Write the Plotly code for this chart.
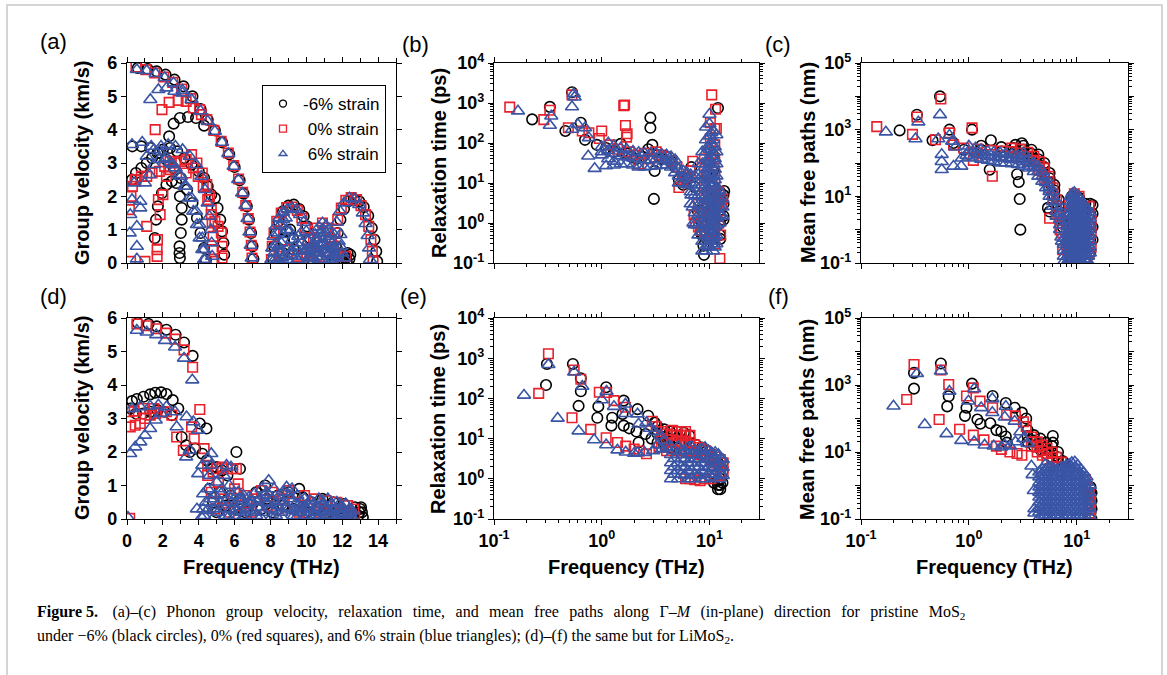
import plotly.graph_objects as go

W, H = 1167, 675
RED = "#e8212b"
BLUE = "#3a55a5"

# ---------------- Panel (a): MoS2 group velocity (THz, km/s) ----------------
A_NEG6 = [
    (0.6, 5.85), (1.15, 5.82), (1.65, 5.75), (2.15, 5.65), (2.65, 5.5), (3.15, 5.3), (3.65, 5.0), (4.1, 4.62),
    (4.5, 4.3), (4.9, 3.98), (5.3, 3.62), (5.7, 3.26), (6.0, 2.88), (6.28, 2.48), (6.5, 2.08), (6.68, 1.7),
    (6.8, 1.3), (6.92, 0.9), (7.0, 0.5), (7.05, 0.12),
    (2.35, 3.8), (2.6, 4.18), (2.95, 4.35), (3.4, 4.38), (3.85, 4.35), (4.3, 4.12),
    (0.28, 2.5), (0.5, 2.7), (0.8, 2.85), (1.1, 3.0), (1.4, 3.15), (1.7, 3.3), (2.0, 3.4), (2.4, 3.45),
    (2.8, 3.35), (3.2, 3.15), (3.6, 2.95), (4.0, 2.75), (4.3, 2.55), (4.5, 2.3), (4.7, 2.05), (4.9, 1.95),
    (5.05, 1.65), (5.2, 1.3), (5.3, 0.95), (5.38, 0.6), (5.42, 0.25),
    (0.3, 3.5), (0.8, 3.5), (1.3, 3.45), (1.8, 3.3), (2.2, 3.1), (2.6, 2.85), (3.0, 2.55), (3.35, 2.2),
    (3.65, 1.8), (3.9, 1.35), (4.1, 0.9), (4.3, 0.45), (4.4, 0.1),
    (1.55, 0.75), (1.62, 1.3), (1.72, 1.7), (1.95, 2.1), (2.2, 2.35), (2.5, 2.45), (2.75, 2.4), (2.95, 2.0),
    (3.05, 1.65), (3.05, 1.3), (3.0, 0.9), (2.93, 0.5), (2.93, 0.3), (2.95, 0.15),
    (8.15, 0.1), (8.2, 0.5), (8.3, 0.9), (8.45, 1.25), (8.7, 1.55), (9.0, 1.72), (9.3, 1.75), (9.6, 1.62),
    (9.85, 1.4), (10.05, 1.1), (10.2, 0.75), (10.3, 0.4), (10.35, 0.1),
    (8.7, 0.3), (8.75, 0.7), (8.9, 0.95), (9.1, 1.0), (9.25, 0.75), (9.3, 0.4),
    (11.6, 0.1), (11.65, 0.5), (11.75, 0.9), (11.9, 1.3), (12.1, 1.62), (12.35, 1.85), (12.65, 1.92),
    (12.95, 1.85), (13.2, 1.68), (13.45, 1.42), (13.65, 1.05), (13.8, 0.7), (13.9, 0.35), (13.95, 0.05),
    (12.0, 0.1), (12.1, 0.25), (12.2, 0.15), (12.3, 0.3), (12.4, 0.12), (12.45, 0.25), (12.25, 0.05),
]
A_ZERO = [
    (0.5, 5.88), (1.05, 5.8), (1.55, 5.7), (2.05, 5.58), (2.55, 5.42), (3.05, 5.22), (3.55, 4.93), (4.05, 4.6),
    (4.45, 4.3), (4.85, 3.98), (5.25, 3.65), (5.65, 3.3), (5.95, 2.92), (6.22, 2.52), (6.45, 2.12), (6.62, 1.72),
    (6.76, 1.33), (6.86, 0.93), (6.93, 0.53), (6.97, 0.15),
    (1.57, 4.0), (1.95, 4.6), (2.35, 4.82), (2.85, 4.88), (3.3, 4.85), (3.7, 4.65), (4.15, 4.45),
    (0.3, 2.3), (0.5, 2.5), (0.8, 2.6), (1.1, 2.6), (1.4, 2.7), (1.8, 2.75), (2.1, 2.9), (2.4, 3.05),
    (2.7, 3.0), (3.0, 3.05), (3.3, 2.7), (3.7, 2.85), (3.97, 2.6), (4.25, 2.3), (4.5, 1.9), (4.7, 1.45),
    (4.9, 1.25), (5.08, 1.1), (5.26, 0.9), (5.3, 0.5), (5.3, 0.15),
    (3.3, 3.1), (3.6, 3.25), (3.9, 3.0), (4.2, 2.7), (4.45, 2.35), (4.6, 2.0), (4.7, 1.6), (4.75, 1.2),
    (4.8, 0.8), (4.82, 0.4), (4.85, 0.05),
    (0.13, 1.6), (0.22, 2.0), (0.45, 2.5), (1.1, 1.1), (1.7, 0.7), (1.68, 0.4), (1.68, 0.2), (1.85, 1.45),
    (1.75, 1.9), (2.0, 2.05), (2.2, 2.6), (1.0, 0.05), (0.2, 0.05), (2.4, 2.8),
    (8.05, 0.1), (8.1, 0.5), (8.2, 0.9), (8.35, 1.25), (8.6, 1.5), (8.9, 1.66), (9.2, 1.68), (9.5, 1.58),
    (9.75, 1.35), (9.95, 1.05), (10.1, 0.7), (10.2, 0.35), (10.25, 0.05),
    (10.25, 0.3), (10.4, 0.75), (10.6, 1.05), (10.9, 1.2), (11.2, 1.05), (11.4, 0.7), (11.55, 0.3),
    (11.45, 0.1), (11.5, 0.5), (11.6, 0.9), (11.75, 1.3), (11.95, 1.65), (12.2, 1.88), (12.5, 1.96),
    (12.8, 1.9), (13.05, 1.72), (13.3, 1.45), (13.48, 1.1), (13.6, 0.7), (13.68, 0.35), (13.72, 0.05),
    (8.5, 0.2), (9.0, 0.4), (9.5, 0.2), (10.0, 0.3), (10.6, 0.2), (11.2, 0.3), (11.8, 0.2), (12.2, 0.2),
]
A_POS6 = [
    (0.55, 5.8), (1.1, 5.77), (1.6, 5.68), (2.1, 5.56), (2.6, 5.4), (3.1, 5.18), (3.6, 4.9), (4.1, 4.56),
    (4.5, 4.25), (4.9, 3.95), (5.3, 3.62), (5.65, 3.28), (5.95, 2.9), (6.2, 2.5), (6.42, 2.1), (6.6, 1.72),
    (6.72, 1.33), (6.83, 0.93), (6.9, 0.53), (6.95, 0.15),
    (1.3, 4.9), (1.75, 5.2), (2.2, 5.25), (2.65, 5.15), (3.1, 5.1),
    (0.28, 3.55), (0.85, 3.62), (1.35, 3.5), (1.8, 3.35), (2.2, 3.15), (2.55, 2.95), (2.9, 2.65), (3.2, 2.3),
    (3.45, 1.95), (3.7, 1.55), (3.9, 1.15), (4.05, 0.75), (4.2, 0.4), (4.3, 0.1),
    (1.1, 3.2), (1.5, 3.4), (1.9, 3.5), (2.3, 3.55), (2.7, 3.5), (3.1, 3.4), (3.5, 3.2), (3.85, 2.95),
    (4.15, 2.6), (4.35, 2.2), (4.5, 1.8), (4.6, 1.4), (4.68, 1.0), (4.72, 0.6), (4.75, 0.2),
    (0.15, 0.9), (0.18, 1.45), (0.28, 1.9), (0.4, 2.4), (0.55, 1.1), (0.55, 0.5), (0.55, 0.12), (0.74, 1.85),
    (0.74, 1.65), (1.0, 2.4), (1.25, 2.65), (1.5, 2.95), (1.8, 3.1), (2.1, 3.1), (2.4, 3.0), (2.7, 2.85),
    (3.0, 2.6), (3.3, 2.3), (3.6, 1.95), (3.85, 1.55), (4.05, 1.15), (4.2, 0.75), (4.3, 0.4), (4.35, 0.1),
    (8.05, 0.1), (8.1, 0.45), (8.18, 0.8), (8.3, 1.1), (8.48, 1.35), (8.7, 1.52), (8.95, 1.62), (9.2, 1.65),
    (9.45, 1.6), (9.65, 1.45), (9.85, 1.22), (10.0, 0.95), (10.1, 0.65), (10.17, 0.35), (10.2, 0.08),
    (8.55, 0.3), (8.6, 0.6), (8.72, 0.85), (8.9, 1.0), (9.08, 0.95), (9.2, 0.7), (9.25, 0.35),
    (10.25, 0.2), (10.35, 0.55), (10.5, 0.85), (10.7, 1.08), (10.9, 1.2), (11.1, 1.12), (11.3, 0.9),
    (11.45, 0.6), (11.55, 0.25),
    (11.4, 0.08), (11.45, 0.45), (11.55, 0.85), (11.7, 1.22), (11.88, 1.55), (12.1, 1.8), (12.4, 1.95),
    (12.7, 1.92), (12.95, 1.75), (13.15, 1.5), (13.3, 1.18), (13.42, 0.82), (13.5, 0.45), (13.55, 0.1),
    (8.3, 0.15), (8.45, 0.5), (8.8, 0.2), (9.0, 0.45), (9.4, 0.2), (9.6, 0.5), (9.8, 0.2), (10.0, 0.4),
    (10.4, 0.15), (10.6, 0.45), (10.8, 0.2), (11.0, 0.6), (11.2, 0.25), (11.4, 0.4), (11.7, 0.2), (11.9, 0.5),
    (12.1, 0.15), (10.1, 0.15), (9.7, 0.9), (10.8, 0.75), (11.9, 0.85),
    (8.2, 0.3), (8.4, 0.1), (8.65, 0.15), (8.95, 0.1), (9.15, 0.25), (9.35, 0.5), (9.5, 0.1), (9.55, 0.8),
    (9.75, 0.6), (9.9, 0.35), (10.3, 0.4), (10.5, 0.3), (10.7, 0.1), (10.9, 0.4), (11.1, 0.3), (11.3, 0.1),
    (11.5, 0.15), (11.6, 0.45), (11.8, 0.65), (12.0, 0.3),
    (10.45, 0.45), (10.55, 0.7), (10.65, 0.3), (10.75, 0.9), (10.85, 0.55), (10.95, 1.0), (11.05, 0.8),
    (11.15, 0.5), (11.25, 0.7), (11.35, 0.3),
    (8.35, 0.55), (8.45, 0.9), (8.55, 1.15), (8.7, 1.3), (8.85, 1.35),
]

# ---------------- Panel (d): LiMoS2 group velocity ----------------
D_NEG6 = [
    (0.6, 5.85), (1.2, 5.82), (1.66, 5.75), (2.2, 5.65), (2.71, 5.5), (3.18, 5.27), (3.66, 4.87),
    (0.28, 3.52), (0.55, 3.58), (0.92, 3.65), (1.29, 3.72), (1.57, 3.77), (1.9, 3.78), (2.2, 3.73),
    (2.55, 3.55), (2.86, 3.3), (0.2, 3.3), (0.5, 3.15), (0.9, 3.15), (1.3, 3.2), (1.7, 3.25), (2.1, 3.2),
    (2.5, 3.1), (3.05, 2.45), (3.3, 2.2), (3.5, 2.0), (3.8, 2.1), (4.06, 2.85), (4.43, 2.7), (4.2, 1.95),
    (4.45, 1.75), (4.7, 1.5), (5.0, 1.55), (5.3, 1.45), (5.6, 1.3), (6.1, 2.0), (6.3, 1.5), (9.6, 0.9),
    (9.8, 0.65),
    (4.6, 0.9), (4.8, 0.5), (5.0, 0.2), (5.2, 0.8), (5.5, 0.4), (5.8, 0.7), (6.0, 0.3), (6.3, 0.6),
    (6.6, 0.2), (6.9, 0.5), (7.2, 0.8), (7.5, 0.3), (7.7, 1.0), (7.8, 0.6), (8.1, 0.2), (8.4, 0.7),
    (8.7, 0.4), (9.0, 0.8), (9.3, 0.3), (10.0, 0.2), (10.3, 0.5), (10.6, 0.3), (10.9, 0.6), (11.2, 0.2),
    (11.5, 0.5), (11.8, 0.3), (12.1, 0.45), (12.4, 0.15), (12.7, 0.35), (12.9, 0.1), (13.0, 0.3),
    (13.1, 0.2), (13.15, 0.05), (13.05, 0.35), (12.95, 0.2),
]
D_ZERO = [
    (0.55, 5.82), (1.1, 5.77), (1.63, 5.68), (2.16, 5.55), (2.68, 5.37), (3.18, 5.05), (3.66, 4.53),
    (0.18, 2.75), (0.46, 2.8), (0.74, 2.85), (1.0, 3.0), (1.3, 3.1), (1.6, 3.15), (1.9, 3.2), (2.2, 3.2),
    (2.5, 3.1), (0.1, 3.2), (0.4, 3.22), (0.9, 3.3), (1.5, 3.3), (2.77, 2.45), (3.14, 2.05), (3.6, 2.75),
    (3.75, 2.4), (4.06, 3.27), (4.3, 2.1), (4.5, 1.6), (4.8, 1.4), (5.0, 1.5), (5.3, 1.55), (5.6, 1.5),
    (5.9, 1.5), (6.1, 1.5), (6.2, 1.05), (0.15, 0.02),
    (4.5, 1.3), (4.7, 0.8), (4.9, 0.3), (5.1, 1.1), (5.4, 0.6), (5.7, 0.2), (6.0, 0.9), (6.3, 0.4),
    (6.6, 0.7), (6.9, 0.2), (7.2, 0.6), (7.5, 0.85), (7.8, 0.4), (8.1, 0.8), (8.4, 0.3), (8.7, 0.6),
    (9.0, 0.85), (9.3, 0.5), (9.6, 0.2), (9.9, 0.7), (10.2, 0.4), (10.5, 0.6), (10.8, 0.2), (11.1, 0.55),
    (11.4, 0.3), (11.7, 0.5), (12.0, 0.2), (12.3, 0.4), (12.5, 0.15), (12.65, 0.3), (12.7, 0.05),
]
D_POS6 = [
    (0.55, 5.63), (1.1, 5.58), (1.63, 5.5), (2.12, 5.33), (2.68, 5.13), (3.18, 4.8), (3.64, 4.15),
    (0.18, 1.95), (0.46, 2.15), (0.74, 2.3), (1.0, 2.5), (1.29, 2.7), (1.6, 2.95), (1.9, 3.15),
    (0.28, 3.3), (0.74, 3.35), (1.29, 3.37), (1.75, 3.4), (2.2, 3.35), (2.68, 3.2), (2.77, 2.75),
    (3.32, 3.05), (3.7, 2.9), (3.97, 2.65), (3.3, 1.85), (3.5, 2.05), (3.97, 1.35), (3.9, 0.3), (4.25, 0.3),
    (4.15, 0.05), (4.25, 0.75), (4.2, 1.6), (4.5, 1.8), (4.7, 1.95), (5.55, 1.6), (5.8, 1.55), (0.05, 0.05),
    (4.3, 0.1), (4.4, 0.5), (4.5, 0.9), (4.6, 1.3), (4.7, 1.6), (4.8, 0.3), (4.9, 0.7), (5.0, 1.1),
    (5.1, 0.2), (5.2, 0.5), (5.3, 0.9), (5.4, 1.3), (5.5, 0.1), (5.6, 0.6), (5.7, 1.0), (5.8, 0.3),
    (5.9, 0.7), (6.0, 0.1), (6.1, 0.45), (6.2, 0.8), (6.3, 0.2), (6.4, 0.55), (6.5, 0.7), (6.6, 0.1),
    (6.7, 0.4), (6.8, 0.65), (6.9, 0.2), (7.0, 0.5), (7.1, 0.75), (7.2, 0.1), (7.3, 0.35), (7.4, 0.6),
    (7.5, 0.9), (7.6, 0.2), (7.7, 0.5), (7.8, 0.8), (7.9, 1.15), (8.0, 0.3), (8.1, 0.6), (8.2, 0.9),
    (8.3, 0.1), (8.4, 0.4), (8.5, 0.7), (8.6, 0.2), (8.7, 0.5), (8.8, 0.8), (8.9, 0.95), (9.0, 0.3),
    (9.1, 0.6), (9.2, 0.9), (9.3, 0.1), (9.4, 0.45), (9.5, 0.7), (9.6, 0.2), (9.7, 0.5), (9.8, 0.3),
    (9.9, 0.6), (10.0, 0.1), (10.1, 0.4), (10.2, 0.55), (10.3, 0.2), (10.4, 0.45), (10.5, 0.1),
    (10.6, 0.35), (10.7, 0.6), (10.8, 0.2), (10.9, 0.45), (11.0, 0.1), (11.1, 0.35), (11.2, 0.6),
    (11.3, 0.2), (11.4, 0.45), (11.5, 0.1), (11.6, 0.3), (11.7, 0.5), (11.8, 0.15), (11.9, 0.35),
    (12.0, 0.1), (12.1, 0.3), (12.2, 0.45), (12.3, 0.15), (12.4, 0.3), (12.5, 0.1), (12.55, 0.25),
    (4.45, 0.25), (4.65, 0.6), (4.85, 0.05), (5.05, 0.4), (5.25, 0.75), (5.45, 0.3), (5.65, 0.05),
    (5.85, 0.5), (6.05, 0.25), (6.25, 0.6), (6.45, 0.05), (6.65, 0.3), (6.85, 0.5), (7.05, 0.25),
    (7.25, 0.5), (7.45, 0.05), (7.65, 0.7), (7.85, 0.45), (8.05, 0.05), (8.25, 0.25), (8.45, 0.55),
    (8.65, 0.05), (8.85, 0.35), (9.05, 0.7), (9.25, 0.25), (9.45, 0.05), (9.65, 0.35), (9.85, 0.05),
    (10.05, 0.3), (10.25, 0.05), (10.45, 0.3), (10.65, 0.05), (10.85, 0.55), (11.05, 0.25), (11.25, 0.05),
    (11.45, 0.25), (11.65, 0.05), (11.85, 0.45), (12.05, 0.2), (12.25, 0.05), (12.45, 0.2),
]

# ---------------- Panel (b): MoS2 relaxation time (THz, ps) ----------------
B_NEG6 = [
    (0.226, 390), (0.33, 800), (0.46, 200), (0.53, 1860), (0.64, 320), (0.7, 120), (0.9, 90), (1.1, 75),
    (1.3, 60), (1.5, 95), (1.7, 55), (1.9, 45), (2.1, 40), (2.4, 45), (2.7, 70), (2.83, 430), (2.83, 240),
    (2.95, 90), (3.05, 4), (3.1, 20), (3.3, 50), (3.6, 40), (4.0, 45), (4.4, 35), (4.8, 25), (5.2, 12),
    (5.7, 9), (6.2, 13), (6.8, 25), (7.3, 8), (7.8, 2), (8.3, 0.6), (8.8, 0.27), (8.9, 0.16), (12.0, 750),
    (12.6, 0.4), (13.7, 6.3), (13.5, 1.2),
]
B_NEG6_COLS = {8.5: [0.5, 1, 2], 9.5: [0.4, 1, 2.5, 6, 15], 10.8: [0.5, 1, 2, 4, 8, 20, 50],
               12.5: [0.5, 1, 2, 4, 6], 13.5: [1.5, 3, 5]}
B_ZERO = [
    (0.14, 790), (0.29, 385), (0.33, 660), (0.49, 240), (0.53, 1600), (0.66, 200), (0.76, 180), (0.95, 130),
    (1.0, 200), (1.2, 90), (1.4, 70), (1.6, 860), (1.63, 890), (1.66, 275), (1.72, 170), (1.7, 140),
    (1.8, 60), (2.0, 50), (2.2, 30), (2.5, 55), (2.8, 40), (3.2, 60), (3.6, 50), (4.0, 45), (4.5, 35),
    (5.0, 25), (5.2, 7.7), (5.6, 12), (6.0, 14), (6.6, 20), (7.0, 35), (7.2, 1.6), (7.4, 1.0), (8.3, 0.65),
    (10.5, 1600), (11.4, 700), (11.6, 230), (12.5, 0.13), (12.7, 0.5), (13.0, 3), (13.3, 4),
]
B_ZERO_COLS = {7.9: [0.8, 1.5, 3], 9.0: [0.6, 1.2, 2.5, 5, 10, 20, 40],
               10.2: [0.5, 1, 2, 4, 8, 16, 32, 64, 130, 320], 11.2: [0.3, 0.6, 1.2, 2.5, 5, 10, 20, 40, 90, 230],
               12.2: [1, 2, 3.5, 6]}
B_POS6 = [
    (0.167, 630), (0.33, 275), (0.34, 470), (0.53, 800), (0.55, 1700), (0.56, 1400), (0.53, 220), (0.6, 290),
    (0.7, 240), (0.76, 135), (0.75, 47), (0.86, 23), (1.0, 60), (1.1, 27), (1.3, 28), (6.8, 5), (7.0, 2.5),
    (7.1, 1.0), (7.3, 0.9),
]
B_POS6_COLS = {
    1.0: [50, 80], 1.15: [40, 65, 100], 1.3: [35, 55, 85], 1.5: [30, 48, 75], 1.7: [30, 45, 70],
    1.95: [28, 42, 62], 2.2: [25, 40, 58], 2.5: [25, 38, 55], 2.85: [26, 38, 55], 3.2: [27, 40, 55],
    3.6: [28, 40, 52], 4.0: [28, 38, 50], 4.4: [25, 35, 45], 4.8: [18, 28, 38], 5.2: [10, 15, 22],
    5.7: [10, 14, 20], 6.2: [9, 13, 18], 6.7: [3, 6, 10, 16],
    7.3: [1.8, 3, 5, 9, 15], 7.9: [0.5, 0.9, 1.6, 2.8, 5, 9, 16, 30],
    8.6: [0.2, 0.35, 0.6, 1.0, 1.7, 3, 5, 9, 16, 30, 60],
    9.3: [0.2, 0.35, 0.6, 1.0, 1.7, 3, 5, 9, 16, 30, 60, 120, 250],
    9.65: [0.27, 0.45, 0.8, 1.3, 2.2, 4, 7, 12, 22, 40, 80],
    10.0: [0.25, 0.4, 0.7, 1.2, 2, 3.5, 6, 10, 18, 35, 70, 150, 300, 520],
    10.4: [0.3, 0.5, 0.9, 1.5, 2.6, 4.5, 8, 14, 25, 45, 90, 180],
    10.8: [0.2, 0.35, 0.6, 1.0, 1.7, 3, 5, 9, 16, 30, 60, 120, 200],
    11.2: [0.25, 0.45, 0.8, 1.3, 2.2, 4, 7, 12, 22, 40, 80],
    11.6: [0.3, 0.5, 0.9, 1.5, 2.5, 4.5, 8, 15, 30, 60, 160],
    12.4: [1.0, 1.6, 2.6, 4, 6.5], 13.2: [1.5, 2.5, 4],
}

# ---------------- Panel (c): MoS2 mean free paths (THz, nm) ----------------
C_NEG6 = [
    (0.228, 950), (0.33, 2800), (0.46, 480), (0.54, 10000), (0.66, 1000), (0.72, 400), (0.9, 250),
    (1.07, 1000), (1.56, 63), (1.6, 480), (2.7, 350), (2.8, 46), (2.9, 27), (2.96, 8.3), (3.0, 1.0),
    (3.1, 390), (5.4, 4.5), (5.6, 3.5), (8.5, 0.1),
]
C_NEG6_COLS = {1.3: [250, 330], 2.0: [220, 300], 2.6: [200, 280], 3.2: [180, 250, 330], 3.8: [140, 190, 250],
               4.4: [90, 130, 180], 5.0: [50, 75, 100], 5.6: [25, 35, 50], 6.2: [10, 15, 22], 6.8: [3.5, 5, 8],
               7.4: [1.2, 2], 9.0: [0.12, 0.3, 0.8, 2, 5, 10], 10.5: [0.12, 0.3, 0.8, 2, 5, 9],
               12.0: [0.12, 0.3, 0.8, 2, 4, 6], 13.3: [0.2, 0.5, 1.2, 3, 6], 14.0: [0.5, 1.2, 3, 5.5]}
C_ZERO = [
    (0.14, 1230), (0.3, 720), (0.33, 2400), (0.49, 500), (0.55, 8300), (0.66, 800), (0.72, 350), (0.9, 280),
    (1.07, 1130), (1.1, 120), (1.65, 40), (5.6, 2.2), (7.2, 0.8), (7.4, 0.25), (8.0, 0.35), (8.3, 0.28),
]
C_ZERO_COLS = {1.2: [200, 260], 1.6: [180, 240], 2.0: [170, 230], 2.5: [160, 220, 280], 3.0: [150, 200, 260],
               3.5: [120, 160, 210], 4.0: [90, 120, 160], 4.5: [60, 80, 110], 5.0: [35, 50, 70],
               5.5: [18, 28, 40], 6.0: [8, 12, 18], 6.5: [3, 5, 8], 7.0: [1, 1.6, 2.5],
               8.5: [0.12, 0.3, 0.7, 1.5, 3, 6], 9.5: [0.12, 0.3, 0.7, 1.5, 3, 6, 12],
               10.5: [0.12, 0.3, 0.7, 1.5, 3, 6, 10], 11.8: [0.12, 0.3, 0.7, 1.5, 3, 5],
               13.0: [0.2, 0.5, 1.2, 3, 5], 13.6: [0.3, 0.8, 2]}
C_POS6 = [
    (0.17, 850), (0.32, 530), (0.34, 1700), (0.52, 530), (0.54, 2800), (0.56, 180), (0.56, 110), (0.56, 63),
    (0.66, 680), (0.7, 450), (0.72, 80), (0.75, 300), (0.85, 80), (0.86, 140), (0.95, 170), (7.2, 0.6),
    (7.3, 0.45), (8.4, 0.47), (8.6, 0.27),
]
C_POS6_COLS = {
    1.0: [150, 230, 320], 1.15: [140, 200, 280], 1.3: [130, 180, 250], 1.5: [120, 160, 220],
    1.7: [110, 150, 210], 1.95: [100, 140, 200], 2.2: [100, 140, 190], 2.5: [95, 130, 180],
    2.85: [90, 125, 170], 3.2: [80, 110, 150, 200], 3.6: [70, 95, 130], 4.0: [55, 75, 100],
    4.4: [40, 55, 75], 4.8: [28, 40, 55], 5.2: [18, 26, 36], 5.6: [10, 14, 20], 6.0: [5, 7, 10, 14],
    6.5: [2.5, 3.5, 5, 7], 7.0: [1, 1.4, 2, 3],
    7.6: [0.11, 0.16, 0.24, 0.36, 0.55],
    8.2: [0.11, 0.16, 0.24, 0.36, 0.55, 0.8, 1.2, 1.8],
    8.5: [0.13, 0.19, 0.28, 0.42, 0.63, 0.95, 1.4, 2.1, 3.2],
    8.8: [0.13, 0.19, 0.28, 0.42, 0.63, 0.95, 1.4, 2.1, 3.2, 4.8, 7, 10],
    9.1: [0.11, 0.16, 0.24, 0.36, 0.55, 0.8, 1.2, 1.8, 2.7, 4, 6, 9, 12],
    9.5: [0.11, 0.16, 0.24, 0.36, 0.55, 0.8, 1.2, 1.8, 2.7, 4, 6, 9, 13],
    9.9: [0.13, 0.19, 0.28, 0.42, 0.63, 0.95, 1.4, 2.1, 3.2, 4.8, 7, 11],
    10.3: [0.13, 0.19, 0.28, 0.42, 0.63, 0.95, 1.4, 2.1, 3.2, 4.8, 7, 10],
    10.7: [0.11, 0.16, 0.24, 0.36, 0.55, 0.8, 1.2, 1.8, 2.7, 4, 6, 8],
    11.2: [0.11, 0.16, 0.24, 0.36, 0.55, 0.8, 1.2, 1.8, 2.7, 4, 6],
    11.7: [0.13, 0.19, 0.28, 0.42, 0.63, 0.95, 1.4, 2.1, 3.2, 4.8],
    12.2: [0.13, 0.19, 0.28, 0.42, 0.63, 0.95, 1.4, 2.1, 3.2, 4.8],
    12.7: [0.11, 0.16, 0.24, 0.36, 0.55, 0.8, 1.2, 1.8, 2.7, 4],
    13.2: [0.2, 0.3, 0.45, 0.7, 1, 1.5, 2.2, 3.3],
}

# ---------------- Panel (e): LiMoS2 relaxation time ----------------
E_NEG6 = [
    (0.304, 215), (0.31, 720), (0.54, 720), (0.61, 65), (0.64, 316), (0.64, 150), (0.91, 33), (0.93, 63),
    (1.1, 190), (1.23, 21), (1.25, 33), (1.56, 41), (1.6, 88), (1.6, 21), (1.8, 18), (2.1, 15), (2.15, 54),
    (2.2, 8), (2.55, 13), (2.7, 37), (2.9, 10), (3.1, 25),
]
E_NEG6_COLS = {3.3: [8, 13, 20], 3.8: [7, 11, 17], 4.3: [6, 10, 15], 5.0: [6, 10, 15], 5.8: [5, 9, 14],
               6.5: [5, 8, 12], 7.5: [4.5, 7], 8.5: [4, 6], 9.5: [3.5, 5], 11.0: [0.8, 3],
               12.0: [0.55, 0.7, 0.9, 2.5], 12.6: [0.55, 0.7, 1.0, 2], 13.2: [0.8, 1.5, 2.5]}
E_ZERO = [
    (0.26, 133), (0.32, 1290), (0.53, 33), (0.555, 510), (0.64, 300), (0.79, 17), (0.95, 142), (1.1, 10.5),
    (1.11, 140), (1.3, 88), (1.4, 8), (1.66, 60), (1.67, 6.5), (2.0, 5.5), (2.24, 4.9), (2.6, 4.2),
    (2.95, 27), (3.2, 20), (3.4, 6),
]
E_ZERO_COLS = {3.6: [6, 10, 15], 4.0: [5, 8, 13], 4.5: [5, 8, 12, 16], 5.0: [5, 8, 12, 15],
               5.5: [5, 8, 12, 15], 6.0: [1.0, 5, 8, 12, 15], 6.6: [1.0, 5, 8, 12], 7.3: [0.95, 5, 7],
               8.2: [0.9, 4, 6], 9.2: [1.0, 3.5, 5], 10.3: [1.0, 3, 4], 11.4: [1.2, 2.5, 3.5],
               12.6: [1.2, 2, 3], 13.4: [1.5, 2.5]}
E_POS6 = [
    (0.19, 120), (0.32, 690), (0.39, 32), (0.555, 450), (0.61, 15.5), (0.66, 200), (0.85, 9.3), (1.0, 92),
    (1.1, 7), (1.11, 150), (1.3, 63), (1.4, 5.2), (1.66, 72), (1.66, 42), (1.67, 4.6), (2.0, 4.3),
    (2.15, 41), (2.2, 23), (2.15, 4.5), (2.5, 4.5), (2.6, 25), (2.8, 18), (3.0, 5), (3.1, 15), (3.3, 7),
    (3.5, 12), (3.6, 5.5), (3.8, 9), (4.0, 6),
]
E_POS6_COLS = {4.4: [1.0, 1.6, 2.5, 4.0, 6.3], 4.7: [1.3, 2.0, 3.2, 5.0], 5.1: [1.0, 1.6, 2.5, 4.0, 6.3],
               5.5: [1.3, 2.0, 3.2, 5.0], 5.9: [1.2, 1.9, 3.0, 4.8], 6.3: [1.0, 1.6, 2.5, 4.0, 6.0],
               6.8: [1.0, 1.6, 2.5, 4.0, 6.3], 7.3: [1.3, 2.0, 3.2, 5.0], 7.9: [1.2, 1.9, 3.0, 4.8],
               8.5: [1.0, 1.6, 2.5, 4.0, 5.5], 9.1: [1.0, 1.6, 2.5, 4.0, 6.0], 9.8: [1.3, 2.0, 3.2, 5.0],
               10.5: [1.1, 1.8, 2.8, 4.4], 11.3: [1.3, 2.0, 3.2, 4.5], 12.1: [1.0, 1.6, 2.5, 4.0],
               12.7: [1.3, 2.0, 3.2], 13.3: [1.2, 1.9, 3.0]}

# ---------------- Panel (f): LiMoS2 mean free paths ----------------
F_NEG6 = [
    (0.31, 780), (0.31, 2300), (0.55, 4400), (0.63, 230), (0.65, 460), (0.92, 120), (0.95, 210),
    (1.07, 1100), (1.2, 93), (1.28, 70), (1.58, 72), (1.66, 470), (1.8, 45), (2.0, 41), (2.2, 290),
    (2.2, 29), (2.25, 19), (2.66, 210), (3.1, 150), (3.4, 100), (6.0, 30), (6.0, 19), (7.4, 5.4),
]
F_NEG6_COLS = {3.5: [20, 30, 45], 4.0: [15, 22, 32], 4.6: [12, 17, 25], 5.2: [9, 13, 19], 5.9: [7, 10, 15],
               6.7: [5, 7, 10], 7.5: [3.5, 5], 8.5: [2.5, 3.5], 13.4: [0.1, 0.15, 0.25, 0.4, 0.6, 0.9],
               13.7: [0.1, 0.2, 0.35, 0.6]}
F_ZERO = [
    (0.265, 370), (0.31, 4100), (0.53, 93), (0.55, 2800), (0.65, 1040), (0.82, 48), (0.95, 470), (1.1, 820),
    (1.1, 32), (1.27, 330), (1.38, 23), (1.66, 210), (1.8, 15), (2.0, 12), (2.24, 130), (2.4, 10),
    (2.7, 120), (2.8, 9), (3.1, 8), (3.4, 58), (3.2, 80),
]
F_ZERO_COLS = {3.8: [15, 20, 28], 4.3: [10, 14, 20], 4.8: [8, 11, 16], 5.3: [6, 9, 13], 5.9: [5, 7, 10],
               6.5: [3.5, 5, 7], 7.2: [2.5, 3.5, 5], 8.2: [2, 3], 10.0: [1.2, 2], 12.0: [0.5, 1, 1.5],
               13.1: [0.1, 0.15, 0.25, 0.4, 0.6], 13.4: [0.1, 0.2, 0.35]}
F_POS6 = [
    (0.2, 234), (0.33, 2200), (0.39, 66), (0.55, 2600), (0.62, 35), (0.66, 650), (0.85, 22), (0.99, 330),
    (1.12, 770), (1.12, 20), (1.3, 210), (1.4, 16), (1.65, 390), (1.65, 150), (1.7, 15), (2.0, 14),
    (2.15, 110), (2.2, 230), (2.15, 16), (2.4, 15), (2.66, 83), (2.7, 20), (3.0, 40), (3.2, 25), (3.5, 18),
    (3.8, 3.8), (3.9, 2.1), (4.0, 0.7), (4.05, 0.2), (4.05, 0.15),
]
F_POS6_COLS = {
    4.5: [0.11, 0.16, 0.22, 0.32, 0.45, 0.63, 0.9, 1.25, 1.8, 2.5],
    4.8: [0.13, 0.19, 0.27, 0.38, 0.53, 0.75, 1.05, 1.5, 2.1, 3.0],
    5.1: [0.13, 0.19, 0.27, 0.38, 0.53, 0.75, 1.05, 1.5, 2.1, 3.0, 4.2],
    5.45: [0.11, 0.16, 0.22, 0.32, 0.45, 0.63, 0.9, 1.25, 1.8, 2.5, 3.5],
    5.8: [0.11, 0.16, 0.22, 0.32, 0.45, 0.63, 0.9, 1.25, 1.8, 2.5, 3.5],
    6.2: [0.13, 0.19, 0.27, 0.38, 0.53, 0.75, 1.05, 1.5, 2.1, 3.0],
    6.6: [0.13, 0.19, 0.27, 0.38, 0.53, 0.75, 1.05, 1.5, 2.1, 3.0],
    7.0: [0.11, 0.16, 0.22, 0.32, 0.45, 0.63, 0.9, 1.25, 1.8, 2.5, 3.3],
    7.5: [0.11, 0.16, 0.22, 0.32, 0.45, 0.63, 0.9, 1.25, 1.8, 2.5, 3.5],
    8.0: [0.13, 0.19, 0.27, 0.38, 0.53, 0.75, 1.05, 1.5, 2.1, 3.0, 4.0],
    8.5: [0.13, 0.19, 0.27, 0.38, 0.53, 0.75, 1.05, 1.5, 2.1, 3.0, 4.2],
    9.0: [0.11, 0.16, 0.22, 0.32, 0.45, 0.63, 0.9, 1.25, 1.8, 2.5, 3.5, 4.8],
    9.6: [0.11, 0.16, 0.22, 0.32, 0.45, 0.63, 0.9, 1.25, 1.8, 2.5, 3.5, 5.0],
    10.2: [0.13, 0.19, 0.27, 0.38, 0.53, 0.75, 1.05, 1.5, 2.1, 3.0, 4.0],
    10.9: [0.13, 0.19, 0.27, 0.38, 0.53, 0.75, 1.05, 1.5, 2.1, 3.0],
    11.6: [0.11, 0.16, 0.22, 0.32, 0.45, 0.63, 0.9, 1.25, 1.8, 2.4],
    12.3: [0.11, 0.16, 0.22, 0.32, 0.45, 0.63, 0.9, 1.25, 1.8],
    13.2: [0.12, 0.2, 0.35, 0.6, 1.0],
}

LEGEND_NAMES = ["-6% strain", "\u00a00% strain", "\u00a06% strain"]

CAPTION_LINE1_WORDS = ["<b>Figure\u00a05.</b>\u00a0", "(a)–(c)", "Phonon", "group", "velocity,", "relaxation",
                       "time,", "and", "mean", "free", "paths", "along", "Γ–<i>M</i>", "(in-plane)",
                       "direction", "for", "pristine", "MoS<sub>2</sub>"]
CAPTION_LINE2 = ("under −6% (black circles), 0% (red squares), and 6% strain (blue triangles); "
                 "(d)–(f) the same but for LiMoS<sub>2</sub>.")

# ---------------- figure ----------------
STYLE = [
    dict(symbol="circle-open", color="black", size=10.5),
    dict(symbol="square-open", color=RED, size=9.5),
    dict(symbol="triangle-up-open", color=BLUE, size=11.5),
]


def xy(pairs, cols=None):
    xs = [p[0] for p in pairs]
    ys = [p[1] for p in pairs]
    if cols:
        for f, vals in cols.items():
            for v in vals:
                xs.append(f)
                ys.append(v)
    return xs, ys


fig = go.Figure()

panels = [
    ("x", "y", [(A_NEG6, None), (A_ZERO, None), (A_POS6, None)]),
    ("x2", "y2", [(B_NEG6, B_NEG6_COLS), (B_ZERO, B_ZERO_COLS), (B_POS6, B_POS6_COLS)]),
    ("x3", "y3", [(C_NEG6, C_NEG6_COLS), (C_ZERO, C_ZERO_COLS), (C_POS6, C_POS6_COLS)]),
    ("x4", "y4", [(D_NEG6, None), (D_ZERO, None), (D_POS6, None)]),
    ("x5", "y5", [(E_NEG6, E_NEG6_COLS), (E_ZERO, E_ZERO_COLS), (E_POS6, E_POS6_COLS)]),
    ("x6", "y6", [(F_NEG6, F_NEG6_COLS), (F_ZERO, F_ZERO_COLS), (F_POS6, F_POS6_COLS)]),
]
for xa, ya, series in panels:
    for (pairs, cols), st in zip(series, STYLE):
        xs, ys = xy(pairs, cols)
        fig.add_trace(go.Scatter(
            x=xs, y=ys, xaxis=xa, yaxis=ya, mode="markers", showlegend=False, hoverinfo="skip",
            marker=dict(symbol=st["symbol"], size=st["size"], color=st["color"],
                        line=dict(color=st["color"], width=1.6)),
        ))

for name, st in zip(LEGEND_NAMES, STYLE):
    fig.add_trace(go.Scatter(
        x=[None], y=[None], mode="markers", name=name, showlegend=True,
        marker=dict(symbol=st["symbol"], size=7, color=st["color"],
                    line=dict(color=st["color"], width=1.3)),
    ))


def px(x):
    return x / W


def py(y):
    return 1 - y / H


TICKFONT = dict(family="Liberation Sans, Arial", size=18, color="black", weight="bold")


def base_axis(**kw):
    d = dict(showline=True, linecolor="black", linewidth=1.3, mirror="allticks", ticks="outside",
             ticklen=5, tickwidth=1.2, tickcolor="black", showgrid=False, zeroline=False,
             tickfont=TICKFONT, automargin=False)
    d.update(kw)
    return d


LOGX_VALS = [0.1, 1, 10]
LOGX_TEXT = ["10<sup>-1</sup>", "10<sup>0</sup>", "10<sup>1</sup>"]
TAU_VALS = [0.1, 1, 10, 100, 1000, 10000]
TAU_TEXT = ["10<sup>-1</sup>", "10<sup>0</sup>", "10<sup>1</sup>", "10<sup>2</sup>", "10<sup>3</sup>", "10<sup>4</sup>"]
MFP_VALS = [0.1, 1, 10, 100, 1000, 10000, 100000]
MFP_TEXT = ["10<sup>-1</sup>", "", "10<sup>1</sup>", "", "10<sup>3</sup>", "", "10<sup>5</sup>"]

cols_x = [(127, 396), (494, 759), (861, 1128)]
rows_y = [(63, 263), (318, 519)]

minor_lin_x = dict(dtick=1, ticks="outside", ticklen=4, tickcolor="black")
minor_log = dict(ticks="outside", ticklen=3, tickcolor="black", dtick="D1", showgrid=False)

layout = {}
for r in range(2):
    for c in range(3):
        idx = r * 3 + c + 1
        xn = "xaxis" if idx == 1 else f"xaxis{idx}"
        yn = "yaxis" if idx == 1 else f"yaxis{idx}"
        xdom = [px(cols_x[c][0]), px(cols_x[c][1])]
        ydom = [py(rows_y[r][1]), py(rows_y[r][0])]
        anchor_x = "y" if idx == 1 else f"y{idx}"
        anchor_y = "x" if idx == 1 else f"x{idx}"
        if c == 0:
            xa = base_axis(domain=xdom, anchor=anchor_x, range=[0, 15], dtick=2, tick0=0,
                           minor=minor_lin_x, showticklabels=(r == 1))
            ya = base_axis(domain=ydom, anchor=anchor_y, range=[0, 6], dtick=1, tick0=0)
        else:
            xa = base_axis(domain=xdom, anchor=anchor_x, type="log",
                           range=[-1, 1.46] if c == 1 else [-1, 1.475],
                           tickmode="array", tickvals=LOGX_VALS, ticktext=LOGX_TEXT,
                           minor=minor_log, showticklabels=(r == 1))
            if c == 1:
                ya = base_axis(domain=ydom, anchor=anchor_y, type="log", range=[-1, 4],
                               tickmode="array", tickvals=TAU_VALS, ticktext=TAU_TEXT, minor=minor_log)
            else:
                ya = base_axis(domain=ydom, anchor=anchor_y, type="log", range=[-1, 5],
                               tickmode="array", tickvals=MFP_VALS, ticktext=MFP_TEXT, minor=minor_log)
        layout[xn] = xa
        layout[yn] = ya

fig.update_layout(**layout)

ann = []
TITLE_FONT = dict(family="Liberation Sans, Arial", size=20, color="black")
for lab, x, y in [("(a)", 53, 42), ("(b)", 415, 44), ("(c)", 778, 44),
                  ("(d)", 53, 297), ("(e)", 413, 297), ("(f)", 778, 297)]:
    ann.append(dict(text=lab, x=px(x), y=py(y), xref="paper", yref="paper", showarrow=False,
                    xanchor="center", yanchor="middle",
                    font=dict(family="Liberation Sans, Arial", size=22, color="black")))
for txt, x, y in [("Group velocity (km/s)", 82, 163), ("Relaxation time (ps)", 439, 163),
                  ("Mean free paths (nm)", 808, 163), ("Group velocity (km/s)", 82, 418),
                  ("Relaxation time (ps)", 438, 419), ("Mean free paths (nm)", 807, 419)]:
    ann.append(dict(text=f"<b>{txt}</b>", x=px(x), y=py(y), xref="paper", yref="paper", showarrow=False,
                    textangle=-90, xanchor="center", yanchor="middle", font=TITLE_FONT))
for x in [261.5, 626.5, 994]:
    ann.append(dict(text="<b>Frequency (THz)</b>", x=px(x), y=py(567), xref="paper", yref="paper",
                    showarrow=False, xanchor="center", yanchor="middle", font=TITLE_FONT))

CAP_FONT = dict(family="Liberation Serif, Times New Roman", size=16, color="black")
GAP = " \u2009\u2009"  # widened word gap: the first caption line is justified in the reference
ann.append(dict(
    text=GAP.join(CAPTION_LINE1_WORDS),
    x=px(35), y=py(612), xref="paper", yref="paper", showarrow=False, xanchor="left", yanchor="middle",
    font=CAP_FONT))
ann.append(dict(
    text=CAPTION_LINE2,
    x=px(35), y=py(636), xref="paper", yref="paper", showarrow=False, xanchor="left", yanchor="middle",
    font=CAP_FONT))

fig.update_layout(
    width=W, height=H, margin=dict(l=0, r=0, t=0, b=0, pad=0), autosize=False,
    paper_bgcolor="white", plot_bgcolor="white",
    annotations=ann,
    legend=dict(x=px(262), y=py(85), xanchor="left", yanchor="top", bgcolor="white",
                bordercolor="black", borderwidth=1,
                font=dict(family="Liberation Sans, Arial", size=17, color="black"),
                itemwidth=30, tracegroupgap=0),
    shapes=[dict(type="rect", xref="paper", yref="paper", x0=px(7), x1=px(1162), y0=-0.01, y1=py(5),
                 line=dict(color="#c8c8c8", width=1.5), fillcolor="rgba(0,0,0,0)", layer="below")],
    showlegend=True,
)

fig.write_html("out.html",
               post_script="document.body.style.margin='0';document.body.style.padding='0';"
                           "document.documentElement.style.overflow='hidden';")
